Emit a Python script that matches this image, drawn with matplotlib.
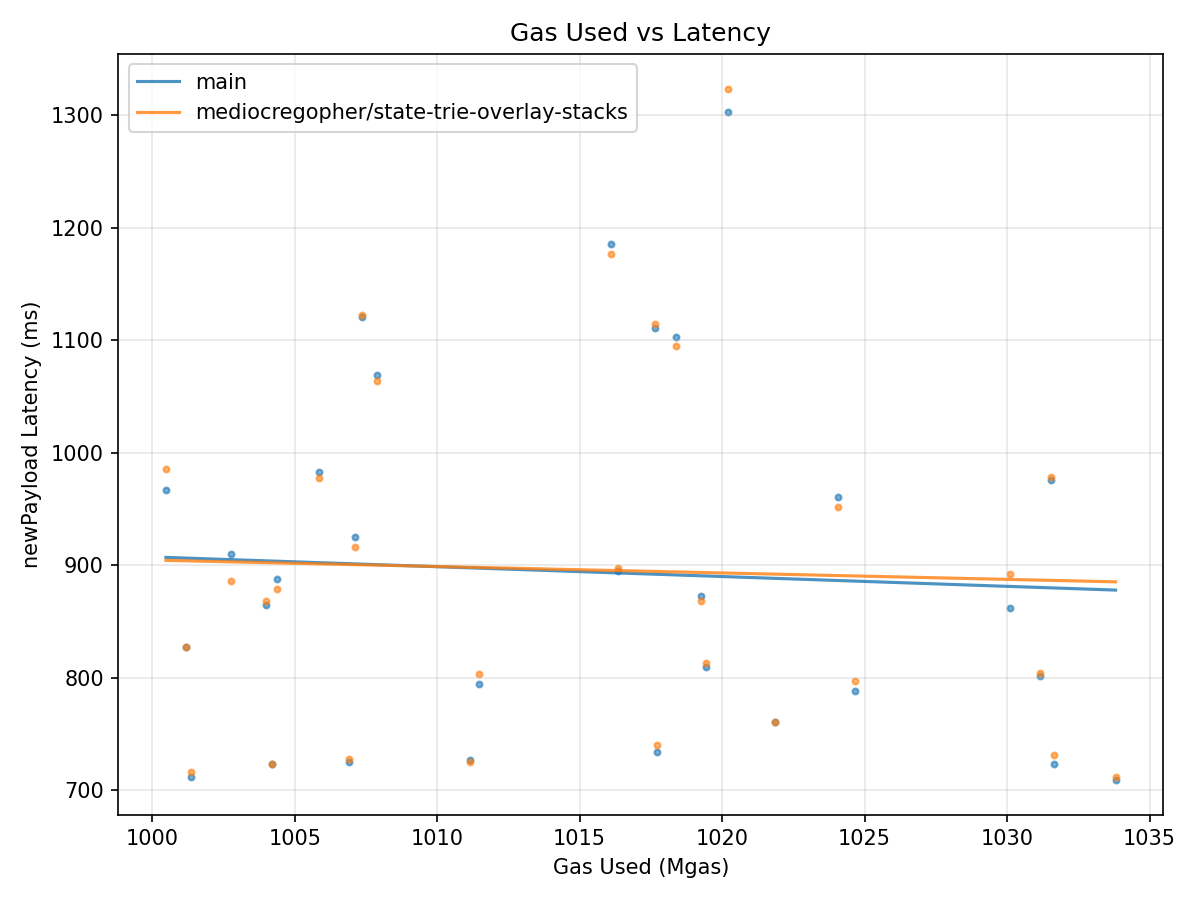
import numpy as np
import matplotlib.pyplot as plt

# gas used per block (Mgas)
gas = [1000.48, 1001.17, 1001.35, 1002.76, 1003.99, 1004.19, 1004.38, 1005.84,
       1006.90, 1007.11, 1007.36, 1007.88, 1011.15, 1011.47, 1016.10, 1016.35,
       1017.64, 1017.72, 1018.38, 1019.26, 1019.45, 1020.21, 1021.85, 1024.08,
       1024.68, 1030.09, 1031.14, 1031.53, 1031.64, 1033.81]

# newPayload latency (ms)
main_lat = [966.4, 827.1, 712.0, 910.2, 864.3, 723.5, 887.9, 982.8,
            724.5, 924.7, 1120.3, 1069.1, 726.5, 794.1, 1185.2, 894.6,
            1111.1, 733.4, 1103.0, 872.7, 809.3, 1303.0, 760.7, 960.2,
            787.9, 862.0, 801.3, 975.4, 722.7, 708.9]
branch_lat = [985.2, 827.1, 716.4, 886.1, 868.2, 723.2, 878.9, 977.7,
              728.0, 916.4, 1122.6, 1063.8, 724.7, 803.0, 1176.2, 897.7,
              1114.6, 739.6, 1095.0, 868.2, 812.9, 1323.6, 760.7, 951.3,
              796.8, 892.3, 803.9, 978.3, 731.0, 712.0]

labels = ['main', 'mediocregopher/state-trie-overlay-stacks']
colors = ['#1f77b4', '#ff7f0e']

fig, ax = plt.subplots(figsize=(8, 6), dpi=150)

x = np.array(gas)
for lat, label, c in zip([main_lat, branch_lat], labels, colors):
    y = np.array(lat)
    ax.scatter(x, y, s=8, color=c, alpha=0.6)
    # linear trend line
    k, b = np.polyfit(x, y, 1)
    xs = np.array([x.min(), x.max()])
    ax.plot(xs, k * xs + b, color=c, alpha=0.8, label=label)

ax.set_title('Gas Used vs Latency')
ax.set_xlabel('Gas Used (Mgas)')
ax.set_ylabel('newPayload Latency (ms)')
ax.grid(True, alpha=0.3)
ax.legend(loc='upper left')

plt.tight_layout()
plt.savefig('out.png')
